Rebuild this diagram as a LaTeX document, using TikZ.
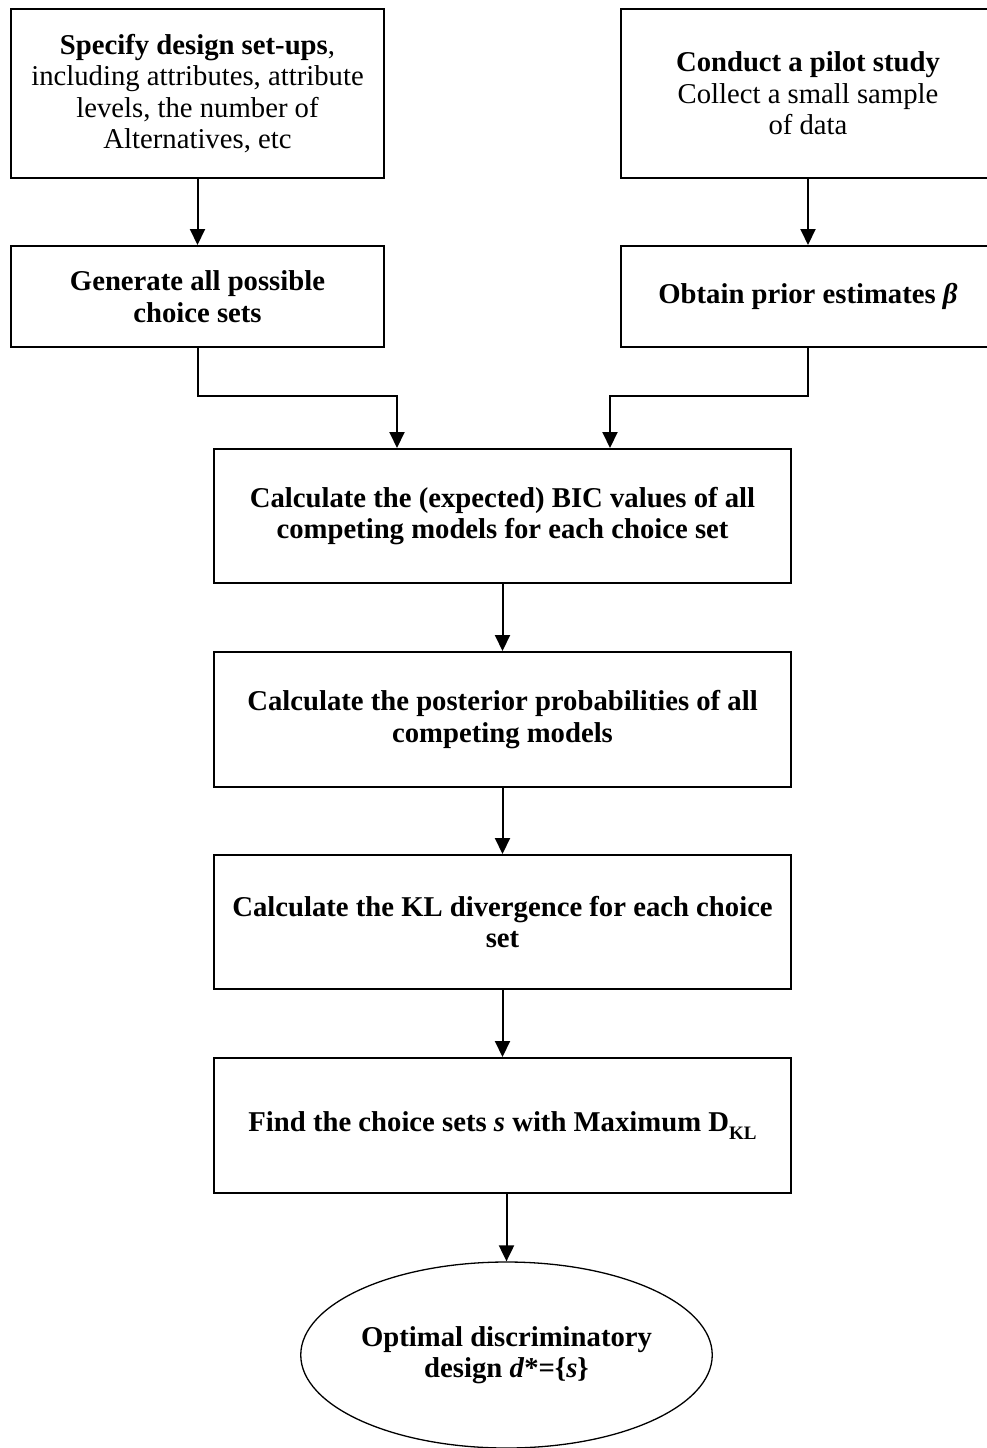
\documentclass[tikz,border=0pt]{standalone}
\usepackage{fontspec}
\setmainfont{Liberation Serif}
\usetikzlibrary{arrows.meta,calc,shapes.geometric}

\tikzset{
  stepbox/.style={draw, line width=2pt, rectangle, align=center,
    font=\fontsize{28.7}{31.5}\selectfont\bfseries, inner sep=0pt},
  endcap/.style={draw, line width=1.3pt, ellipse, fill=white, align=center,
    font=\fontsize{28.7}{31.5}\selectfont\bfseries, inner sep=0pt},
  arr/.style={line width=2pt, -{Triangle[width=15pt,length=16pt]}},
}
\newcommand{\subKL}{\raisebox{-0.25em}{\fontsize{19}{19}\selectfont KL}}

\begin{document}
\begin{tikzpicture}[x=1pt,y=-1pt]
  \useasboundingbox (0,0) rectangle (986,1448);

  % upper row
  \node[stepbox, minimum width=373pt, minimum height=169pt] (A) at (197.5,93.5)
    {Specify design set-ups\mdseries,\\
     \mdseries including attributes, attribute\\
     \mdseries levels, the number of\\
     \mdseries Alternatives, etc};
  \node[stepbox, minimum width=374pt, minimum height=169pt] (B) at (808,93.5)
    {Conduct a pilot study\\
     \mdseries Collect a small sample\\
     \mdseries of data};

  % second row
  \node[stepbox, minimum width=373pt, minimum height=101pt] (C) at (197.5,296.5)
    {Generate all possible\\choice sets};
  \node[stepbox, minimum width=374pt, minimum height=101pt] (D) at (808,296.5)
    {Obtain prior estimates \textit{β}};

  % main column
  \node[stepbox, minimum width=577pt, minimum height=134pt] (E) at (502.5,516)
    {Calculate the (expected) BIC values of all\\competing models for each choice set};
  \node[stepbox, minimum width=577pt, minimum height=135pt] (F) at (502.5,719.5)
    {Calculate the posterior probabilities of all\\competing models};
  \node[stepbox, minimum width=577pt, minimum height=134pt] (G) at (502.5,922)
    {Calculate the KL divergence for each choice\\set};
  \node[stepbox, minimum width=577pt, minimum height=135pt] (H) at (502.5,1125.5)
    {Find the choice sets \textit{s} with Maximum D\subKL};

  % final outcome
  \node[endcap, minimum width=408pt, minimum height=186pt] (O) at (506.5,1355)
    {Optimal discriminatory\\design \textit{d}*=\{\textit{s}\}};

  % connectors
  \draw[arr] (A) -- (C);
  \draw[arr] (B) -- (D);
  \draw[arr] (C.south) -- ++(0,48) -| ($(E.north)+(-105.5,0)$);
  \draw[arr] (D.south) -- ++(0,48) -| ($(E.north)+(107.5,0)$);
  \draw[arr] (E) -- (F);
  \draw[arr] (F) -- (G);
  \draw[arr] (G) -- (H);
  \draw[arr] (H.south -| O.north) -- (O.north);
\end{tikzpicture}
\end{document}
